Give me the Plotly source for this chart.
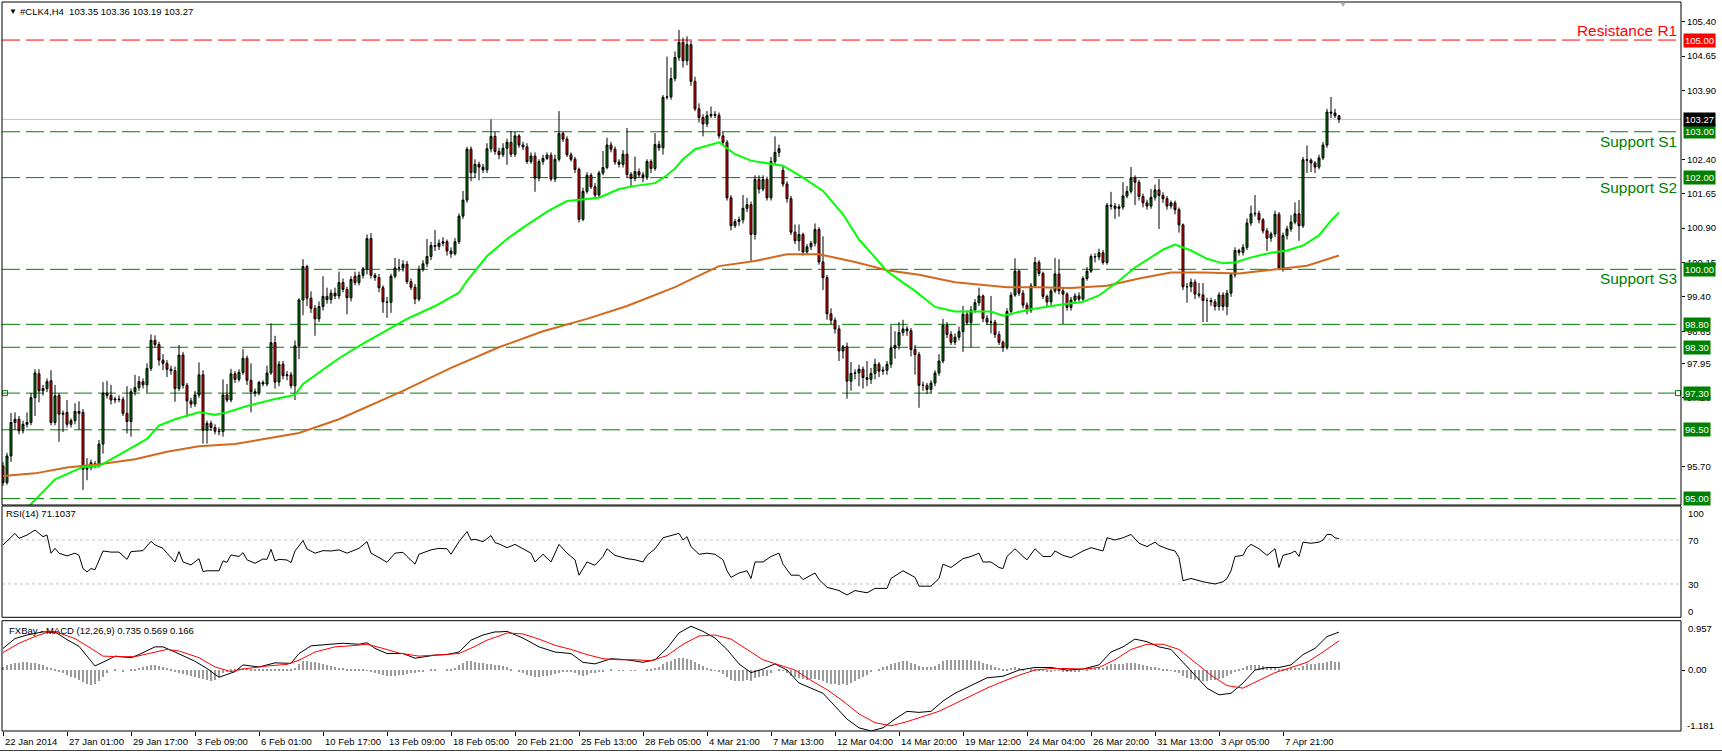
import plotly.graph_objects as go
from plotly.subplots import make_subplots

# ---------------- data ----------------
opens = [
 95.71, 95.35, 95.93, 96.66, 96.73, 96.48, 96.62, 96.66, 97.20, 97.72,
 97.35, 97.40, 97.57, 96.66, 97.25, 96.84, 96.88, 96.62, 96.70, 96.90,
 96.88, 95.64, 95.68, 95.76, 95.73, 96.19, 97.30, 97.25, 97.15, 97.17,
 97.16, 96.86, 96.68, 97.33, 97.42, 97.55, 97.48, 97.84, 98.45, 98.36,
 98.02, 97.95, 97.82, 97.79, 97.40, 98.13, 97.47, 97.13, 97.06, 97.26,
 97.70, 96.49, 96.64, 96.55, 96.47, 96.46, 97.26, 97.15, 97.72, 97.60,
 97.75, 98.06, 97.58, 97.33, 97.30, 97.53, 97.50, 97.74, 98.40, 97.54,
 97.93, 97.68, 97.70, 97.46, 98.33, 99.33, 100.06, 99.37, 99.15, 98.92,
 99.19, 99.41, 99.34, 99.48, 99.42, 99.71, 99.56, 99.38, 99.85, 99.71,
 99.87, 100.01, 100.67, 99.87, 99.82, 99.60, 99.29, 99.28, 99.85, 100.03,
 100.03, 100.11, 99.73, 99.61, 99.35, 100.00, 100.12, 100.28, 100.52, 100.50,
 100.57, 100.60, 100.40, 100.34, 100.60, 101.16, 101.51, 102.62, 102.11, 102.29,
 102.23, 102.17, 102.63, 102.90, 102.57, 102.50, 102.64, 102.77, 102.51, 102.91,
 102.71, 102.67, 102.35, 102.47, 101.99, 102.35, 102.42, 102.49, 101.97, 102.40,
 102.96, 102.84, 102.50, 102.40, 102.18, 101.09, 101.70, 102.05, 101.80, 101.62,
 102.10, 102.22, 102.71, 102.62, 102.34, 102.29, 102.51, 102.07, 101.98, 102.13,
 102.06, 102.00, 102.35, 102.20, 102.72, 102.65, 103.75, 103.76, 104.16, 104.62,
 104.95, 104.55, 104.90, 104.10, 103.50, 103.31, 103.17, 103.35, 103.38, 103.36,
 102.91, 102.77, 101.56, 100.95, 101.04, 101.08, 101.33, 101.41, 100.76, 101.96,
 101.75, 101.96, 101.56, 102.35, 102.55, 102.16, 101.86, 101.54, 100.81, 100.62,
 100.76, 100.38, 100.49, 100.57, 100.87, 100.16, 99.82, 99.03, 98.89, 98.70,
 98.22, 98.31, 97.56, 97.73, 97.74, 97.82, 97.64, 97.60, 97.73, 97.93,
 97.78, 97.80, 97.93, 98.28, 98.34, 98.62, 98.70, 98.66, 98.25, 98.14,
 97.47, 97.47, 97.38, 97.52, 97.74, 98.00, 98.78, 98.58, 98.41, 98.52,
 98.64, 99.02, 98.84, 99.11, 99.27, 99.42, 98.93, 98.85, 98.85, 98.58,
 98.41, 98.29, 99.08, 99.44, 99.96, 99.48, 99.22, 99.10, 99.64, 100.15,
 99.91, 99.41, 99.29, 99.53, 99.90, 99.53, 99.46, 99.17, 99.33, 99.42,
 99.35, 99.80, 99.96, 100.28, 100.27, 100.36, 100.15, 101.40, 101.38, 101.33,
 101.36, 101.60, 101.70, 101.99, 101.90, 101.59, 101.45, 101.38, 101.57, 101.73,
 101.61, 101.54, 101.38, 101.45, 101.30, 100.97, 99.62, 99.62, 99.72, 99.46,
 99.44, 99.32, 99.32, 99.29, 99.19, 99.44, 99.19, 99.48, 99.88, 100.41,
 100.37, 100.48, 101.01, 101.21, 101.22, 101.08, 100.84, 100.68, 100.77, 101.20,
 100.03, 100.74, 100.88, 101.03, 101.21, 100.95, 102.39, 102.38, 102.32, 102.23,
 102.43, 102.71, 103.43, 103.41, 103.35]

highs = [
 95.80, 96.00, 96.87, 96.88, 96.80, 96.70, 96.88, 97.30, 97.82, 97.82,
 97.48, 97.62, 97.80, 97.48, 97.30, 96.92, 97.15, 96.75, 97.08, 97.12,
 96.95, 95.88, 95.85, 95.82, 96.28, 97.54, 97.57, 97.48, 97.22, 97.25,
 97.22, 97.45, 97.40, 97.70, 97.67, 97.62, 97.95, 98.58, 98.56, 98.42,
 98.15, 98.02, 97.90, 97.88, 98.35, 98.20, 97.52, 97.20, 97.35, 97.97,
 97.80, 96.70, 96.70, 96.62, 96.55, 97.60, 97.50, 97.83, 97.78, 97.82,
 98.26, 98.12, 97.95, 97.40, 97.57, 97.58, 97.90, 98.82, 98.55, 98.00,
 98.00, 97.78, 97.76, 98.45, 99.37, 100.22, 100.10, 99.52, 99.22, 99.30,
 99.85, 99.60, 99.56, 99.60, 99.95, 99.80, 99.62, 99.85, 99.95, 99.95,
 100.05, 100.76, 100.79, 99.92, 99.90, 99.65, 99.40, 99.90, 100.25, 100.23,
 100.20, 100.18, 99.80, 99.68, 100.08, 100.20, 100.66, 100.60, 100.86, 100.65,
 100.70, 100.65, 100.48, 100.68, 101.22, 101.71, 102.67, 102.68, 102.40, 102.35,
 102.30, 102.75, 103.27, 103.00, 102.65, 102.75, 102.85, 103.02, 103.00, 102.95,
 102.78, 102.75, 102.55, 102.55, 102.40, 102.50, 102.55, 102.55, 102.50, 103.45,
 103.00, 102.90, 102.55, 102.45, 102.22, 101.78, 102.12, 102.10, 101.88, 102.15,
 102.58, 102.87, 102.78, 102.68, 102.40, 102.60, 103.08, 102.12, 102.46, 102.20,
 102.12, 102.40, 102.40, 102.97, 102.80, 103.80, 104.64, 104.40, 104.75, 105.22,
 105.05, 105.08, 104.98, 104.20, 103.62, 103.38, 103.45, 103.55, 103.45, 103.42,
 103.00, 102.82, 101.62, 101.10, 101.15, 101.62, 101.56, 101.48, 102.05, 102.05,
 102.05, 102.02, 102.45, 102.90, 102.72, 102.25, 101.92, 101.60, 100.98, 100.98,
 100.80, 100.55, 100.62, 101.00, 100.92, 100.72, 99.88, 99.15, 98.95, 98.78,
 98.35, 98.40, 97.98, 97.82, 97.92, 97.88, 98.00, 97.85, 98.05, 97.98,
 97.88, 98.00, 98.78, 98.65, 98.85, 98.90, 98.76, 98.72, 98.35, 98.20,
 97.55, 97.52, 97.58, 97.80, 98.15, 98.92, 98.85, 98.65, 98.60, 98.75,
 99.20, 99.10, 99.20, 99.35, 99.60, 99.45, 99.00, 99.42, 98.90, 98.65,
 98.45, 99.15, 99.50, 100.24, 100.00, 99.55, 99.28, 99.70, 100.27, 100.20,
 99.95, 99.45, 99.58, 100.25, 100.22, 99.60, 99.50, 99.40, 99.48, 99.50,
 99.85, 100.05, 100.33, 100.35, 100.45, 100.42, 101.45, 101.69, 101.45, 101.42,
 101.90, 101.82, 102.23, 102.05, 101.95, 101.65, 101.52, 101.75, 101.85, 101.97,
 101.68, 101.60, 101.50, 101.50, 101.35, 101.00, 99.70, 99.80, 99.78, 99.70,
 99.70, 99.38, 99.38, 99.35, 99.50, 99.50, 99.55, 99.92, 100.48, 100.45,
 100.55, 101.11, 101.39, 101.62, 101.28, 101.12, 100.90, 100.82, 101.28, 101.25,
 100.80, 100.95, 101.18, 101.46, 101.51, 102.45, 102.70, 102.42, 102.36, 102.50,
 102.78, 103.50, 103.76, 103.50, 103.36]

lows = [
 95.28, 95.30, 95.80, 96.50, 96.40, 96.42, 96.55, 96.60, 96.80, 97.10,
 97.25, 97.32, 96.60, 96.60, 96.24, 96.45, 96.55, 96.55, 96.62, 96.50,
 95.19, 95.40, 95.62, 95.66, 95.68, 95.98, 97.18, 97.05, 97.08, 97.10,
 96.80, 96.42, 96.35, 97.25, 97.35, 97.40, 97.31, 97.78, 98.30, 97.90,
 97.80, 97.65, 97.70, 97.11, 97.35, 97.40, 96.78, 96.98, 97.00, 97.20,
 96.20, 96.20, 96.48, 96.40, 96.38, 96.35, 97.10, 97.10, 97.52, 97.55,
 97.70, 97.48, 96.88, 97.22, 97.25, 97.45, 97.45, 97.70, 97.40, 97.45,
 97.60, 97.58, 97.40, 97.15, 98.04, 99.00, 99.20, 99.05, 98.55, 98.85,
 99.10, 99.25, 99.25, 99.35, 99.35, 99.50, 99.02, 99.30, 99.65, 99.65,
 99.80, 99.89, 99.80, 99.75, 99.50, 99.05, 98.94, 99.05, 99.80, 99.95,
 99.95, 99.68, 99.55, 99.24, 99.30, 99.95, 100.05, 100.20, 100.40, 100.42,
 100.50, 100.30, 100.25, 100.30, 100.55, 101.10, 101.45, 101.92, 102.00, 101.94,
 102.10, 102.10, 102.55, 102.50, 102.40, 102.45, 102.28, 102.45, 102.45, 102.65,
 102.60, 102.30, 102.30, 101.69, 101.92, 102.28, 102.38, 101.92, 101.90, 102.35,
 102.78, 102.45, 102.35, 102.10, 101.02, 101.05, 101.65, 101.75, 101.55, 101.58,
 102.05, 102.18, 102.55, 102.28, 102.22, 102.22, 102.00, 101.82, 101.92, 102.00,
 101.90, 101.95, 102.10, 102.15, 102.58, 102.50, 103.70, 103.70, 104.10, 104.55,
 104.40, 104.45, 104.00, 103.45, 103.20, 102.90, 103.10, 103.30, 103.30, 102.85,
 102.70, 101.50, 100.85, 100.90, 100.95, 101.00, 101.25, 100.18, 100.65, 101.65,
 101.70, 101.50, 101.50, 102.28, 102.45, 101.80, 101.45, 100.75, 100.55, 100.40,
 100.30, 100.32, 100.42, 100.50, 100.10, 99.55, 98.90, 98.80, 98.60, 98.00,
 98.05, 97.18, 97.35, 97.60, 97.45, 97.40, 97.45, 97.50, 97.60, 97.65,
 97.70, 97.70, 97.85, 98.05, 98.25, 98.55, 98.55, 98.10, 97.70, 96.98,
 97.35, 97.28, 97.30, 97.45, 97.68, 97.95, 98.50, 98.35, 98.35, 98.45,
 98.20, 98.78, 98.30, 99.05, 99.20, 98.85, 98.78, 98.60, 98.50, 98.35,
 98.20, 98.25, 99.00, 99.40, 99.42, 99.15, 99.02, 99.05, 99.60, 99.85,
 99.35, 99.20, 99.22, 99.48, 99.45, 98.81, 99.10, 99.10, 99.25, 99.30,
 99.30, 99.75, 99.92, 100.15, 100.20, 100.10, 100.10, 101.30, 101.10, 101.15,
 101.30, 101.55, 101.65, 101.40, 101.50, 101.35, 101.30, 101.32, 101.50, 100.88,
 101.45, 101.30, 101.32, 101.20, 100.80, 99.55, 99.27, 99.50, 99.35, 99.38,
 98.85, 98.85, 99.20, 99.10, 99.10, 99.10, 99.00, 99.40, 99.82, 100.30,
 100.30, 100.42, 100.95, 101.15, 101.00, 100.78, 100.40, 100.60, 100.70, 99.98,
 99.95, 100.65, 100.82, 100.98, 100.62, 100.90, 102.10, 102.12, 102.10, 102.18,
 102.38, 102.65, 103.30, 103.30, 103.19]

closes = [
 95.35, 95.93, 96.66, 96.73, 96.48, 96.62, 96.66, 97.20, 97.74, 97.35,
 97.40, 97.55, 96.66, 97.24, 96.84, 96.86, 96.62, 96.70, 96.90, 96.86,
 95.64, 95.68, 95.78, 95.73, 96.19, 97.30, 97.25, 97.15, 97.17, 97.16,
 96.86, 96.68, 97.33, 97.42, 97.55, 97.48, 97.84, 98.45, 98.36, 98.02,
 97.95, 97.82, 97.79, 97.40, 98.13, 97.47, 97.13, 97.06, 97.26, 97.70,
 96.49, 96.64, 96.55, 96.47, 96.46, 97.26, 97.15, 97.72, 97.60, 97.75,
 98.06, 97.58, 97.33, 97.30, 97.53, 97.50, 97.74, 98.40, 97.54, 97.93,
 97.68, 97.70, 97.46, 98.33, 99.33, 100.06, 99.37, 99.15, 98.92, 99.19,
 99.41, 99.34, 99.48, 99.42, 99.71, 99.56, 99.38, 99.78, 99.71, 99.87,
 100.01, 100.67, 99.87, 99.82, 99.60, 99.29, 99.28, 99.85, 100.03, 100.03,
 100.11, 99.73, 99.61, 99.35, 100.00, 100.12, 100.28, 100.52, 100.50, 100.57,
 100.60, 100.40, 100.34, 100.60, 101.16, 101.51, 102.62, 102.11, 102.29, 102.23,
 102.17, 102.63, 102.90, 102.57, 102.50, 102.64, 102.77, 102.51, 102.91, 102.71,
 102.67, 102.35, 102.47, 101.99, 102.35, 102.42, 102.49, 101.97, 102.40, 102.96,
 102.84, 102.50, 102.40, 102.18, 101.09, 101.70, 102.05, 101.80, 101.62, 102.10,
 102.22, 102.71, 102.62, 102.34, 102.29, 102.51, 102.07, 101.98, 102.13, 102.06,
 102.00, 102.35, 102.20, 102.72, 102.65, 103.75, 103.76, 104.16, 104.62, 104.95,
 104.55, 104.90, 104.10, 103.50, 103.31, 103.17, 103.35, 103.38, 103.36, 102.91,
 102.77, 101.56, 100.95, 101.04, 101.08, 101.33, 101.41, 100.76, 101.96, 101.75,
 101.96, 101.56, 102.35, 102.55, 102.63, 101.86, 101.54, 100.81, 100.62, 100.76,
 100.38, 100.49, 100.57, 100.87, 100.16, 99.82, 99.03, 98.89, 98.70, 98.22,
 98.31, 97.56, 97.73, 97.74, 97.82, 97.64, 97.60, 97.73, 97.93, 97.78,
 97.80, 97.93, 98.28, 98.34, 98.62, 98.70, 98.66, 98.25, 98.14, 97.47,
 97.47, 97.38, 97.52, 97.74, 98.00, 98.78, 98.58, 98.41, 98.52, 98.64,
 99.02, 98.84, 99.11, 99.27, 99.42, 98.93, 98.85, 98.85, 98.58, 98.41,
 98.29, 99.08, 99.44, 99.96, 99.48, 99.22, 99.10, 99.64, 100.15, 99.91,
 99.41, 99.29, 99.53, 99.90, 99.53, 99.46, 99.17, 99.33, 99.42, 99.35,
 99.80, 99.96, 100.28, 100.27, 100.36, 100.15, 101.40, 101.38, 101.33, 101.36,
 101.60, 101.70, 101.99, 101.90, 101.59, 101.45, 101.38, 101.57, 101.73, 101.61,
 101.54, 101.38, 101.45, 101.30, 100.97, 99.62, 99.62, 99.72, 99.46, 99.44,
 99.32, 99.32, 99.29, 99.19, 99.44, 99.19, 99.48, 99.88, 100.41, 100.37,
 100.48, 101.01, 101.21, 101.22, 101.08, 100.84, 100.68, 100.77, 101.20, 100.03,
 100.74, 100.88, 101.03, 101.21, 100.95, 102.39, 102.38, 102.32, 102.23, 102.43,
 102.71, 103.43, 103.41, 103.35, 103.27]

# moving averages (green = fast, orange = slow), sampled at bars
ma_fast_x = [5, 8, 13, 20, 24, 30, 36, 39, 43, 49, 53, 56, 61, 68, 73, 75, 79, 84, 90, 95,
             101, 108, 114, 116, 121, 126, 130, 136, 141, 149, 154, 158, 163, 166, 168, 170, 173, 179, 183, 187,
             192, 195, 200, 205, 210, 214, 217, 221, 225, 228, 233, 238, 242, 247, 250, 257, 265, 270, 274, 279,
             283, 290, 293, 297, 301, 305, 308, 312, 317, 321, 325, 329, 332, 334]
ma_fast = [94.70, 94.97, 95.42, 95.69, 95.71, 96.00, 96.30, 96.59, 96.73, 96.88, 96.83, 96.88, 97.02, 97.17, 97.26, 97.50, 97.75, 98.06, 98.38, 98.62,
           98.92, 99.20, 99.49, 99.75, 100.29, 100.66, 100.91, 101.26, 101.49, 101.56, 101.75, 101.82, 101.88, 102.05, 102.20, 102.40, 102.62, 102.77, 102.51, 102.37,
           102.31, 102.26, 102.00, 101.71, 101.20, 100.65, 100.36, 99.96, 99.71, 99.53, 99.18, 99.08, 99.08, 99.08, 98.99, 99.13, 99.24, 99.29, 99.43, 99.75,
           100.04, 100.43, 100.54, 100.41, 100.23, 100.13, 100.15, 100.26, 100.36, 100.41, 100.52, 100.74, 101.06, 101.24]
ma_slow_x = [0, 8, 16, 24, 33, 41, 49, 58, 66, 74, 84, 100, 112, 124, 135, 146, 156, 168, 172, 179,
             188, 196, 204, 213, 221, 229, 238, 251, 259, 267, 276, 284, 292, 300, 309, 317, 326, 334]
ma_slow = [95.49, 95.55, 95.68, 95.75, 95.86, 96.02, 96.14, 96.19, 96.31, 96.43, 96.73, 97.35, 97.85, 98.30, 98.65, 98.92, 99.20, 99.61, 99.78, 100.07,
           100.18, 100.33, 100.33, 100.16, 99.98, 99.88, 99.72, 99.61, 99.61, 99.59, 99.64, 99.80, 99.93, 99.93, 99.91, 99.99, 100.08, 100.30]

# RSI(14)
rsi_x = [0, 3, 4, 6, 8, 10, 11, 12, 13, 14, 16, 18, 19, 20, 21, 22, 23, 25, 27, 29,
         31, 32, 35, 37, 38, 40, 41, 43, 44, 45, 47, 49, 50, 51, 54, 55, 56, 57, 59, 60,
         61, 63, 65, 66, 67, 68, 69, 71, 72, 73, 75, 76, 78, 80, 82, 84, 86, 88, 89, 91,
         92, 94, 96, 98, 100, 101, 103, 104, 107, 109, 111, 112, 114, 116, 117, 118, 120, 122, 123, 124,
         126, 128, 130, 132, 133, 135, 137, 139, 141, 143, 144, 146, 148, 150, 151, 153, 156, 158, 160, 161,
         163, 165, 167, 169, 170, 171, 172, 174, 176, 178, 180, 181, 182, 184, 186, 187, 188, 190, 192, 194,
         195, 197, 199, 200, 203, 204, 206, 209, 211, 213, 216, 218, 221, 222, 225, 226, 228, 229, 232, 234,
         235, 237, 240, 242, 244, 245, 247, 249, 250, 251, 253, 255, 256, 258, 260, 262, 263, 265, 267, 270,
         272, 275, 276, 278, 280, 282, 284, 286, 288, 289, 291, 293, 294, 295, 297, 300, 303, 305, 306, 307,
         308, 310, 311, 312, 314, 316, 318, 319, 320, 322, 323, 324, 325, 327, 329, 330, 331, 332, 333, 334]
rsi_v = [65.5, 76, 71.5, 74.5, 79, 73, 74.5, 58, 62.4, 58, 55.5, 58, 56, 44, 41, 44, 43, 60, 59, 59,
         52.4, 59.4, 60.3, 68.8, 65.5, 62.4, 58, 50, 59.4, 50, 47.3, 53, 41.2, 42, 42, 51, 49.7, 56.4, 55, 58.5,
         52, 48.8, 52.7, 52.4, 61.5, 51, 52.4, 51.8, 49.4, 60, 69.4, 61.8, 58, 60.3, 60, 61, 58, 61, 62.4, 68.5,
         58, 54, 49.7, 58, 58.8, 55, 48, 57, 61, 62.4, 62, 57, 68.5, 77.6, 70, 70.6, 68.5, 74, 67.6, 66.4,
         63, 66, 62, 58, 50, 57, 50, 66, 58, 52, 38, 50, 47, 55, 62, 56, 53, 52, 50, 56,
         62, 72, 74, 76, 70, 73, 64, 57, 58, 57, 52, 42, 36, 40, 42, 35, 50, 50, 55, 58,
         48, 38, 38, 34, 40, 34, 27, 24, 20, 24, 22, 26, 26, 35, 42, 40, 36, 28, 28, 35,
         48, 45, 53, 55, 58, 50, 50, 45, 44, 55, 62, 55, 52, 62, 55, 55, 60, 56, 54, 60,
         63, 60, 72, 70, 72, 75, 67, 64, 68, 65, 62, 60, 54, 33, 35, 32, 30, 32, 35, 42,
         55, 56, 63, 66, 62, 56, 62, 45, 56, 58, 60, 55, 68, 67, 68, 70, 75, 75, 72, 71.1]

# MACD (12,26,9)
macd_x = [0, 3, 6, 10, 13, 16, 19, 21, 23, 26, 28, 32, 34, 38, 40, 43, 48, 51, 54, 58,
          60, 64, 68, 72, 74, 77, 82, 85, 89, 91, 93, 96, 100, 103, 108, 111, 114, 117, 120, 123,
          124, 126, 130, 134, 138, 142, 145, 148, 152, 156, 160, 163, 166, 169, 172, 175, 178, 181, 184, 187,
          190, 193, 196, 199, 202, 205, 208, 211, 214, 217, 220, 223, 226, 229, 232, 235, 238, 242, 246, 250,
          254, 258, 262, 266, 270, 274, 277, 280, 283, 286, 289, 292, 295, 298, 301, 304, 307, 310, 313, 316,
          319, 322, 325, 328, 331, 334]
macd_v = [0.42, 0.61, 0.68, 0.74, 0.74, 0.59, 0.46, 0.26, 0.08, 0.19, 0.27, 0.24, 0.30, 0.45, 0.45, 0.35, 0.17, 0.03, -0.14, -0.03,
          0.10, 0.06, 0.14, 0.13, 0.32, 0.47, 0.50, 0.52, 0.50, 0.53, 0.42, 0.32, 0.32, 0.23, 0.29, 0.30, 0.35, 0.58, 0.68, 0.74,
          0.74, 0.75, 0.62, 0.45, 0.35, 0.32, 0.15, 0.12, 0.22, 0.20, 0.15, 0.20, 0.42, 0.72, 0.85, 0.75, 0.62, 0.40, 0.12, -0.05,
          0.02, 0.12, 0.00, -0.25, -0.35, -0.45, -0.70, -0.95, -1.12, -1.18, -1.12, -0.95, -0.80, -0.82, -0.80, -0.60, -0.45, -0.30, -0.15, -0.12,
          0.00, 0.05, 0.05, 0.00, 0.02, 0.10, 0.35, 0.45, 0.60, 0.55, 0.45, 0.40, 0.15, -0.12, -0.35, -0.48, -0.45, -0.25, 0.00, 0.05,
          0.05, 0.10, 0.30, 0.42, 0.65, 0.735]
signal_x = [0, 4, 8, 11, 14, 18, 22, 25, 29, 33, 37, 41, 44, 49, 53, 57, 60, 66, 71, 74,
            78, 83, 87, 91, 95, 99, 104, 110, 114, 118, 121, 124, 126, 130, 134, 138, 142, 146, 150, 154,
            158, 162, 166, 170, 174, 178, 182, 186, 190, 194, 198, 202, 206, 210, 214, 218, 222, 226, 230, 234,
            238, 242, 246, 250, 254, 258, 262, 266, 270, 274, 278, 282, 286, 290, 294, 298, 302, 306, 310, 314,
            318, 322, 326, 330, 334]
signal_v = [0.34, 0.52, 0.65, 0.73, 0.72, 0.61, 0.42, 0.27, 0.26, 0.26, 0.33, 0.40, 0.37, 0.24, 0.06, -0.03, 0.02, 0.08, 0.11, 0.19,
            0.35, 0.45, 0.47, 0.50, 0.42, 0.33, 0.27, 0.30, 0.32, 0.46, 0.58, 0.66, 0.72, 0.70, 0.60, 0.48, 0.40, 0.30, 0.22, 0.20,
            0.20, 0.18, 0.28, 0.50, 0.66, 0.68, 0.60, 0.40, 0.20, 0.10, 0.00, -0.20, -0.38, -0.60, -0.85, -1.02, -1.08, -1.00, -0.90, -0.80,
            -0.65, -0.50, -0.35, -0.22, -0.10, 0.00, 0.03, 0.03, 0.02, 0.05, 0.20, 0.40, 0.50, 0.50, 0.40, 0.15, -0.10, -0.30, -0.35, -0.20,
            -0.05, 0.05, 0.15, 0.35, 0.569]
hist_v = [
 0.07, 0.10, 0.12, 0.14, 0.15, 0.16, 0.16, 0.15, 0.14, 0.12, 0.10, 0.07, 0.04,
 0.01,
 -0.03, -0.06, -0.09, -0.12, -0.15, -0.18, -0.22, -0.26, -0.28, -0.27, -0.20, -0.12,
 -0.05, 0.00, 0.01, 0.00, -0.02, 0.00, 0.01,
 0.03, 0.05, 0.07, 0.09, 0.11, 0.10, 0.08, 0.06, 0.04, 0.02,
 -0.03, -0.05, -0.07, -0.09, -0.11, -0.13, -0.15, -0.17, -0.19, -0.20, -0.18, -0.12, -0.06, -0.02,
 0.02, 0.03, 0.04, 0.04, 0.04, 0.03, 0.03, 0.02, 0.02, 0.02, 0.03, 0.03, 0.03, 0.02, 0.02, 0.03, 0.05,
 0.12, 0.18, 0.18, 0.17, 0.16, 0.14, 0.12, 0.10, 0.08, 0.06, 0.05,
 0.04, 0.03, 0.02, 0.01, 0.02, 0.03,
 -0.01, -0.03, -0.05, -0.07, -0.09, -0.10, -0.11, -0.10, -0.09, -0.08, -0.07, -0.06, -0.05, -0.04, -0.02,
 0.00, 0.01, 0.01, 0.00, 0.00, 0.01, 0.02,
 0.05, 0.10, 0.15, 0.18, 0.18, 0.17, 0.15, 0.14, 0.13, 0.12, 0.11, 0.10,
 0.08, 0.06, 0.03, 0.00, -0.03, -0.06, -0.09, -0.11, -0.12, -0.12, -0.11,
 -0.10, -0.09, -0.07, -0.05, -0.04, -0.03, -0.04, -0.06, -0.09, -0.10, -0.08, -0.06, -0.05, -0.04, -0.02, 0.00, 0.01, 0.00, -0.01, -0.01, 0.00, -0.01, -0.01, 0.00, 0.00,
 0.02, 0.03, 0.05, 0.07, 0.12, 0.16, 0.19, 0.22, 0.24, 0.24, 0.23, 0.21, 0.17, 0.13, 0.09,
 0.05, 0.02, -0.01, -0.04, -0.07, -0.12, -0.18, -0.20, -0.21, -0.20, -0.18, -0.20, -0.15, -0.13, -0.10, -0.10, -0.05, 0.00, 0.02, -0.01,
 -0.05, -0.10, -0.13, -0.15, -0.17, -0.18, -0.17, -0.16, -0.18, -0.20, -0.24, -0.26, -0.27, -0.28, -0.27, -0.28, -0.25, -0.20, -0.16, -0.12,
 -0.08, -0.04, 0.00, 0.03, 0.06, 0.08, 0.12, 0.14, 0.16, 0.18, 0.18, 0.15, 0.12, 0.08, 0.06, 0.06, 0.07, 0.09, 0.12, 0.18,
 0.20, 0.21, 0.20, 0.20, 0.21, 0.20, 0.20, 0.19, 0.19, 0.15, 0.12, 0.10, 0.07, 0.04, 0.02, 0.03, 0.04, 0.06, 0.04, 0.02,
 0.00, 0.01, 0.02, 0.01, -0.01, -0.02, -0.02, -0.01, -0.01, -0.02, -0.03, -0.03, -0.02, -0.02, 0.00, 0.02, 0.04, 0.05, 0.06, 0.05,
 0.09, 0.12, 0.13, 0.13, 0.13, 0.14, 0.15, 0.14, 0.12, 0.10, 0.08, 0.07, 0.06, 0.05, 0.03, 0.01, -0.01, -0.03, -0.05, -0.10,
 -0.15, -0.17, -0.18, -0.19, -0.20, -0.20, -0.19, -0.18, -0.16, -0.14, -0.11, -0.07, -0.02, 0.02, 0.05, 0.08, 0.10, 0.11, 0.10, 0.08,
 0.06, 0.05, 0.06, 0.02, 0.02, 0.03, 0.04, 0.05, 0.04, 0.09, 0.12, 0.13, 0.13, 0.14, 0.15, 0.17, 0.18, 0.17, 0.166]

support_levels = [103.00, 102.00, 100.00, 98.80, 98.30, 97.30, 96.50, 95.00]
resistance_level = 105.00
last_price = 103.27
ray_level = 97.30
level_names = {105.00: "Resistance R1", 103.00: "Support S1", 102.00: "Support S2", 100.00: "Support S3"}

price_ticks = [105.40, 104.65, 103.90, 102.40, 101.65, 100.90, 100.15,
               99.40, 98.65, 97.95, 97.20, 95.70]
date_labels = ["22 Jan 2014", "27 Jan 01:00", "29 Jan 17:00", "3 Feb 09:00", "6 Feb 01:00",
               "10 Feb 17:00", "13 Feb 09:00", "18 Feb 05:00", "20 Feb 21:00", "25 Feb 13:00",
               "28 Feb 05:00", "4 Mar 21:00", "7 Mar 13:00", "12 Mar 04:00", "14 Mar 20:00",
               "19 Mar 12:00", "24 Mar 04:00", "26 Mar 20:00", "31 Mar 13:00", "3 Apr 05:00",
               "7 Apr 21:00"]
date_step = 16
rsi_levels = [70, 30]
rsi_labels = [100, 70, 30, 0]
macd_max, macd_min = 0.957, -1.181
header_main = "#CLK4,H4\u00a0\u00a0103.35 103.36 103.19 103.27"
header_rsi = "RSI(14) 71.1037"
header_macd = "FXBay - MACD (12,26,9) 0.735 0.569 0.166"

# ---------------- layout helpers (pixel geometry) ----------------
W, H = 1722, 752
ML, MR, MT, MB = 2, 41, 2, 21
TOP, BOT = MT, H - MB
def py(Y):
    return (BOT - Y) / (BOT - TOP)
def px(X):
    return (X - ML) / (W - ML - MR)

FONT = "Liberation Sans, Arial, sans-serif"
GREEN = "#008000"
XR = [-0.25, 419.5]

fig = make_subplots(rows=3, cols=1, shared_xaxes=True, vertical_spacing=0.01)

bars = list(range(len(closes)))
fig.add_trace(go.Candlestick(
    x=bars, open=opens, high=highs, low=lows, close=closes,
    increasing=dict(fillcolor=GREEN, line=dict(color="#000000", width=1)),
    decreasing=dict(fillcolor="#FF0000", line=dict(color="#000000", width=1)),
    whiskerwidth=0, hoverinfo="skip", showlegend=False), row=1, col=1)
fig.add_trace(go.Scatter(x=ma_slow_x, y=ma_slow, mode="lines",
                         line=dict(color="#D2691E", width=2), hoverinfo="skip"), row=1, col=1)
fig.add_trace(go.Scatter(x=ma_fast_x, y=ma_fast, mode="lines",
                         line=dict(color="#00FF00", width=2), hoverinfo="skip"), row=1, col=1)
fig.add_trace(go.Scatter(x=[XR[0] + 0.75, XR[1] - 0.75], y=[ray_level, ray_level], mode="markers",
                         marker=dict(symbol="square-open", size=5, color=GREEN, line=dict(width=1)),
                         hoverinfo="skip"), row=1, col=1)

fig.add_trace(go.Scatter(x=rsi_x, y=rsi_v, mode="lines",
                         line=dict(color="#000000", width=1), hoverinfo="skip"), row=2, col=1)

fig.add_trace(go.Bar(x=list(range(len(hist_v))), y=hist_v, width=0.3,
                     marker=dict(color="#9A9A9A", line=dict(width=0)), hoverinfo="skip"), row=3, col=1)
fig.add_trace(go.Scatter(x=macd_x, y=macd_v, mode="lines",
                         line=dict(color="#000000", width=1), hoverinfo="skip"), row=3, col=1)
fig.add_trace(go.Scatter(x=signal_x, y=signal_v, mode="lines",
                         line=dict(color="#FF0000", width=1), hoverinfo="skip"), row=3, col=1)

shapes = []
for lv in support_levels:
    shapes.append(dict(type="line", xref="paper", x0=0, x1=1, yref="y", y0=lv, y1=lv,
                       line=dict(color=GREEN, width=1, dash="18px,6px"), layer="below"))
shapes.append(dict(type="line", xref="paper", x0=0, x1=1, yref="y", y0=resistance_level, y1=resistance_level,
                   line=dict(color="#FF0000", width=1, dash="18px,6px"), layer="below"))
shapes.append(dict(type="line", xref="paper", x0=0, x1=1, yref="y", y0=last_price, y1=last_price,
                   line=dict(color="#C0C0C0", width=1), layer="below"))
for lv in rsi_levels:
    shapes.append(dict(type="line", xref="paper", x0=0, x1=1, yref="y2", y0=lv, y1=lv,
                       line=dict(color="#C0C0C0", width=1, dash="3px,3px"), layer="below"))
# panel frames
for (y0, y1) in [(py(505), 1.0), (py(617.3), py(506)), (0.0, py(620.7))]:
    shapes.append(dict(type="rect", xref="paper", yref="paper", x0=0, x1=1, y0=y0, y1=y1,
                       line=dict(color="#000000", width=1), fillcolor="rgba(0,0,0,0)"))
# bottom window edge
shapes.append(dict(type="line", xref="paper", yref="paper", x0=px(0), x1=px(W), y0=py(750.5), y1=py(750.5),
                   line=dict(color="#404040", width=1)))

ann = []
def txt(text, x, y, xanchor="left", yanchor="middle", size=9.5, color="#000000", xref="paper", yref="paper", **kw):
    d = dict(text=text, x=x, y=y, xref=xref, yref=yref, xanchor=xanchor, yanchor=yanchor,
             showarrow=False, font=dict(family=FONT, size=size, color=color))
    d.update(kw)
    ann.append(d)

# headers
txt("\u25bc", px(7), py(11), size=8)
txt(header_main, px(18), py(11))
txt(header_rsi, px(4), py(513))
txt(header_macd, px(7), py(630))
txt("\u25bc", px(1343), py(5), xanchor="center", size=8, color="#A8A8A8")

# level names
for lv, name in level_names.items():
    col = "#FF0000" if lv == resistance_level else GREEN
    shift = 9.5 if lv == resistance_level else -9.5
    txt(name, px(1679), lv, xanchor="right", size=15.4, color=col, yref="y", yshift=shift)

# level price boxes on the right axis
for lv in support_levels:
    txt("%.2f" % lv, 1, lv, yref="y", xshift=1.5, color="#FFFFFF", bgcolor=GREEN, borderpad=1)
txt("%.2f" % resistance_level, 1, resistance_level, yref="y", xshift=1.5, color="#FFFFFF", bgcolor="#FF0000", borderpad=1)
txt("%.2f" % last_price, 1, last_price, yref="y", xshift=1.5, color="#FFFFFF", bgcolor="#000000", borderpad=1)

# RSI / MACD scale labels
rsi_label_y = {100: 513.3, 70: 540, 30: 584, 0: 611}
for v in rsi_labels:
    txt(str(v), px(1686), py(rsi_label_y[v]))
txt("%.3f" % macd_max, px(1685.5), py(628))
txt("0.00", px(1686), py(669.5))
txt("%.3f" % macd_min, px(1685), py(725))

# date labels
for k, lab in enumerate(date_labels):
    txt(lab, k * date_step, py(741), xref="x3", xshift=0)

fig.update_layout(
    width=W, height=H, margin=dict(l=ML, r=MR, t=MT, b=MB),
    paper_bgcolor="#FFFFFF", plot_bgcolor="#FFFFFF", showlegend=False,
    shapes=shapes, annotations=ann, bargap=0,
    font=dict(family=FONT, size=10, color="#000000"),
    yaxis=dict(domain=[py(505), 1.0], range=[94.86, 105.83], side="right",
               tickvals=price_ticks, ticktext=["%.2f" % t for t in price_ticks],
               ticks="outside", ticklen=3, tickcolor="#000000", tickfont=dict(size=9.5),
               showgrid=False, zeroline=False),
    yaxis2=dict(domain=[py(617.3), py(506)], range=[-0.3, 100.9], side="right",
                showticklabels=False, showgrid=False, zeroline=False),
    yaxis3=dict(domain=[0.0, py(620.7)], range=[macd_min, macd_max], side="right",
                showticklabels=False, showgrid=False, zeroline=False,
                tickvals=[0], ticks="outside", ticklen=3, tickcolor="#000000"),
)
fig.update_xaxes(range=XR, showgrid=False, zeroline=False, showticklabels=False,
                 rangeslider_visible=False)
fig.update_xaxes(tickvals=[k * date_step for k in range(len(date_labels))], ticks="outside",
                 ticklen=4, tickcolor="#000000", row=3, col=1)

fig.write_html("out.html", config={"displayModeBar": False},
               post_script="document.body.style.margin='0px';")
